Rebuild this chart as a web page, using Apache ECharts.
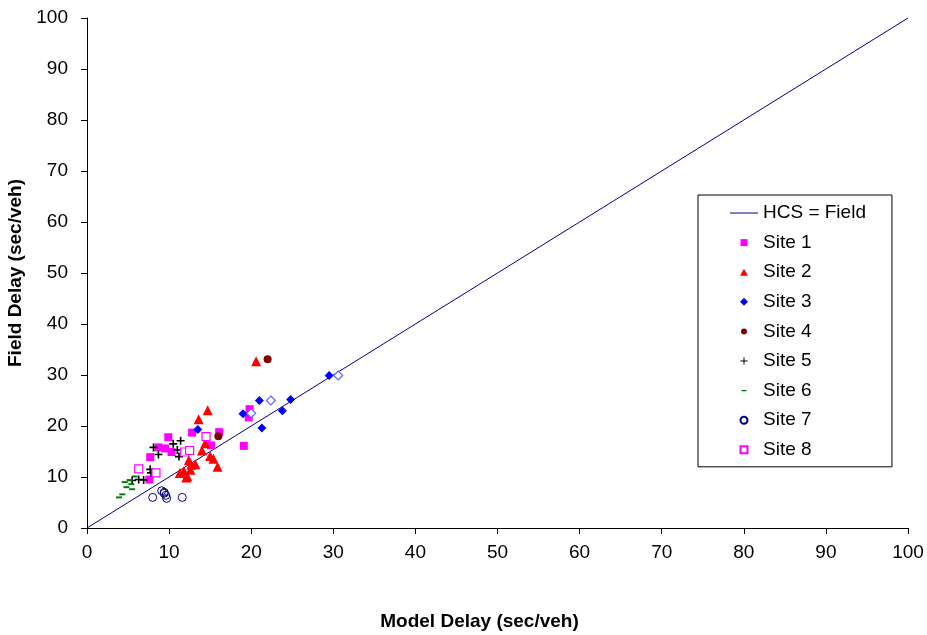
<!DOCTYPE html>
<html style="height: 100%">
<head>
<meta charset="utf-8">
<script src="https://cdn.jsdelivr.net/npm/echarts@6/dist/echarts.min.js"></script>
</head>
<body style="height: 100%; margin: 0; background-color: #fff">
<div id="container" style="width: 927px; height: 635px"></div>
<script type="text/javascript">
// HCS = Field reference line
var lineData = [[0, 0], [100, 100]];
// [model delay, field delay] per site
var site1 = [[9.9, 17.8], [12.8, 18.7], [16.1, 18.8], [15.1, 16.2], [8.7, 15.8], [9.5, 15.6], [10.3, 14.9],
             [7.7, 13.9], [7.6, 9.5], [19.1, 16.1], [19.8, 23.3], [19.7, 21.7]];
var site2 = [[20.6, 32.7], [14.7, 23.1], [13.6, 21.3], [14.4, 16.6], [14.0, 15.2], [15.0, 14.1], [15.4, 13.6],
             [15.9, 12.0], [12.4, 13.3], [12.7, 12.4], [13.2, 12.5], [11.3, 10.8], [11.8, 11.2], [12.2, 10.2],
             [12.6, 11.4], [12.1, 9.9]];
var site3 = [[29.5, 29.9], [24.8, 25.2], [23.8, 23.0], [21.0, 25.0], [19.0, 22.4], [21.3, 19.6], [13.5, 19.3]];
var site3open = [[30.6, 29.9], [22.4, 25.0], [20.0, 22.5]];
var site4 = [[22.0, 33.1], [16.0, 18.0]];
var site5 = [[10.5, 16.5], [11.4, 17.1], [8.1, 15.8], [8.7, 14.4], [11.0, 15.3], [11.2, 14.0], [7.7, 11.5],
             [7.8, 10.8], [6.9, 9.4], [6.3, 9.5], [5.5, 9.3]];
var site6 = [[5.8, 10.1], [5.2, 9.4], [4.6, 9.0], [4.8, 8.0], [5.5, 7.6], [4.3, 6.6], [3.9, 6.0], [5.4, 8.6]];
var site7 = [[8.0, 6.0], [9.1, 7.3], [9.4, 6.8], [9.6, 6.4], [9.7, 5.8], [9.4, 7.0], [11.6, 6.0]];
var site8 = [[14.5, 17.9], [11.9, 14.9], [12.5, 15.2], [6.3, 11.6], [8.4, 10.8]];
var legendNames = ['HCS = Field', 'Site 1', 'Site 2', 'Site 3', 'Site 4', 'Site 5', 'Site 6', 'Site 7', 'Site 8'];

var font = 'Liberation Sans, Arial, sans-serif';
var plus = 'path://M4,0H6V4H10V6H6V10H4V6H0V4H4Z';
var dash = 'path://M0,0H10V3H0Z';

// legend icons: 14x14 box (moveTo corners) so the mark keeps its pixel size
var box = 'path://M0,0M14,14';
var legendIcons = [
    'path://M0,6.5H28V7.5H0Z',
    box + 'M3.5,3.5H10.5V10.5H3.5Z',
    box + 'M7,3.5L11,10.5H3Z',
    box + 'M7,3L11,7L7,11L3,7Z',
    box + 'M7,4A3,3 0 1 1 6.99,4Z',
    box + 'M6.5,3.5H7.5V6.5H10.5V7.5H7.5V10.5H6.5V7.5H3.5V6.5H6.5Z',
    box + 'M4.5,6.3H9.5V7.7H4.5Z',
    box + 'M7,3.5A3.5,3.5 0 1 1 6.99,3.5Z',
    box + 'M3.5,3.5H10.5V10.5H3.5Z'
];

var chart = echarts.init(document.getElementById('container'));
var option = {
    animation: false,
    textStyle: { fontFamily: font },
    grid: { left: 87, right: 19, top: 18, bottom: 107, outerBoundsMode: 'none', containLabel: false },
    xAxis: {
        type: 'value', min: 0, max: 100, interval: 10,
        name: 'Model Delay (sec/veh)', nameLocation: 'middle', nameGap: 84,
        nameTextStyle: { fontSize: 19, fontWeight: 'bold', color: '#000', fontFamily: font, padding: [0, 36, 0, 0] },
        axisLine: { lineStyle: { color: '#000', width: 1 } },
        axisTick: { show: true, length: 6, lineStyle: { color: '#000' } },
        axisLabel: { fontSize: 19, color: '#000', margin: 15, fontFamily: font },
        splitLine: { show: false }
    },
    yAxis: {
        type: 'value', min: 0, max: 100, interval: 10,
        name: 'Field Delay (sec/veh)', nameLocation: 'middle', nameGap: 60,
        nameTextStyle: { fontSize: 19, fontWeight: 'bold', color: '#000', fontFamily: font },
        axisLine: { show: true, lineStyle: { color: '#000', width: 1 } },
        axisTick: { show: true, length: 6, lineStyle: { color: '#000' } },
        axisLabel: { fontSize: 19, color: '#000', margin: 19, fontFamily: font },
        splitLine: { show: false }
    },
    legend: {
        data: legendNames.map(function (n, i) { return { name: n, icon: legendIcons[i] }; }),
        orient: 'vertical',
        left: 698, top: 195,
        padding: [8, 26, 7, 32],
        borderColor: '#000', borderWidth: 1,
        itemWidth: 28, itemHeight: 14, itemGap: 9.6,
        textStyle: { fontSize: 19, color: '#000', lineHeight: 20, fontFamily: font }
    },
    series: [
        {
            name: 'HCS = Field', type: 'line', data: lineData, symbol: 'none', z: 1,
            lineStyle: { color: '#000080', width: 1 }, itemStyle: { color: '#000080' }
        },
        { name: 'Site 1', type: 'scatter', data: site1, symbol: 'rect', symbolSize: 8, itemStyle: { color: '#ff00ff', opacity: 1 } },
        { name: 'Site 2', type: 'scatter', data: site2, symbol: 'triangle', symbolSize: 10, itemStyle: { color: '#ff0000', opacity: 1 } },
        { name: 'Site 3', type: 'scatter', data: site3, symbol: 'diamond', symbolSize: 9, itemStyle: { color: '#0000ff', opacity: 1 } },
        { name: 'Site 3 open', type: 'scatter', data: site3open, symbol: 'diamond', symbolSize: 9,
          itemStyle: { color: '#fff', borderColor: '#6666ff', borderWidth: 1.2, opacity: 1 } },
        { name: 'Site 4', type: 'scatter', data: site4, symbol: 'circle', symbolSize: 8, itemStyle: { color: '#800000', opacity: 1 } },
        { name: 'Site 5', type: 'scatter', data: site5, symbol: plus, symbolSize: 8, itemStyle: { color: '#000', opacity: 1 } },
        { name: 'Site 6', type: 'scatter', data: site6, symbol: dash, symbolSize: [6, 2], itemStyle: { color: '#008000', opacity: 1 } },
        { name: 'Site 7', type: 'scatter', data: site7, symbol: 'circle', symbolSize: 8,
          itemStyle: { color: 'rgba(255,255,255,0)', borderColor: '#000080', borderWidth: 1, opacity: 1 } },
        { name: 'Site 8', type: 'scatter', data: site8, symbol: 'rect', symbolSize: 8,
          itemStyle: { color: '#fff', borderColor: '#ff00ff', borderWidth: 1.2, opacity: 1 } }
    ]
};
chart.setOption(option);
</script>
</body>
</html>
